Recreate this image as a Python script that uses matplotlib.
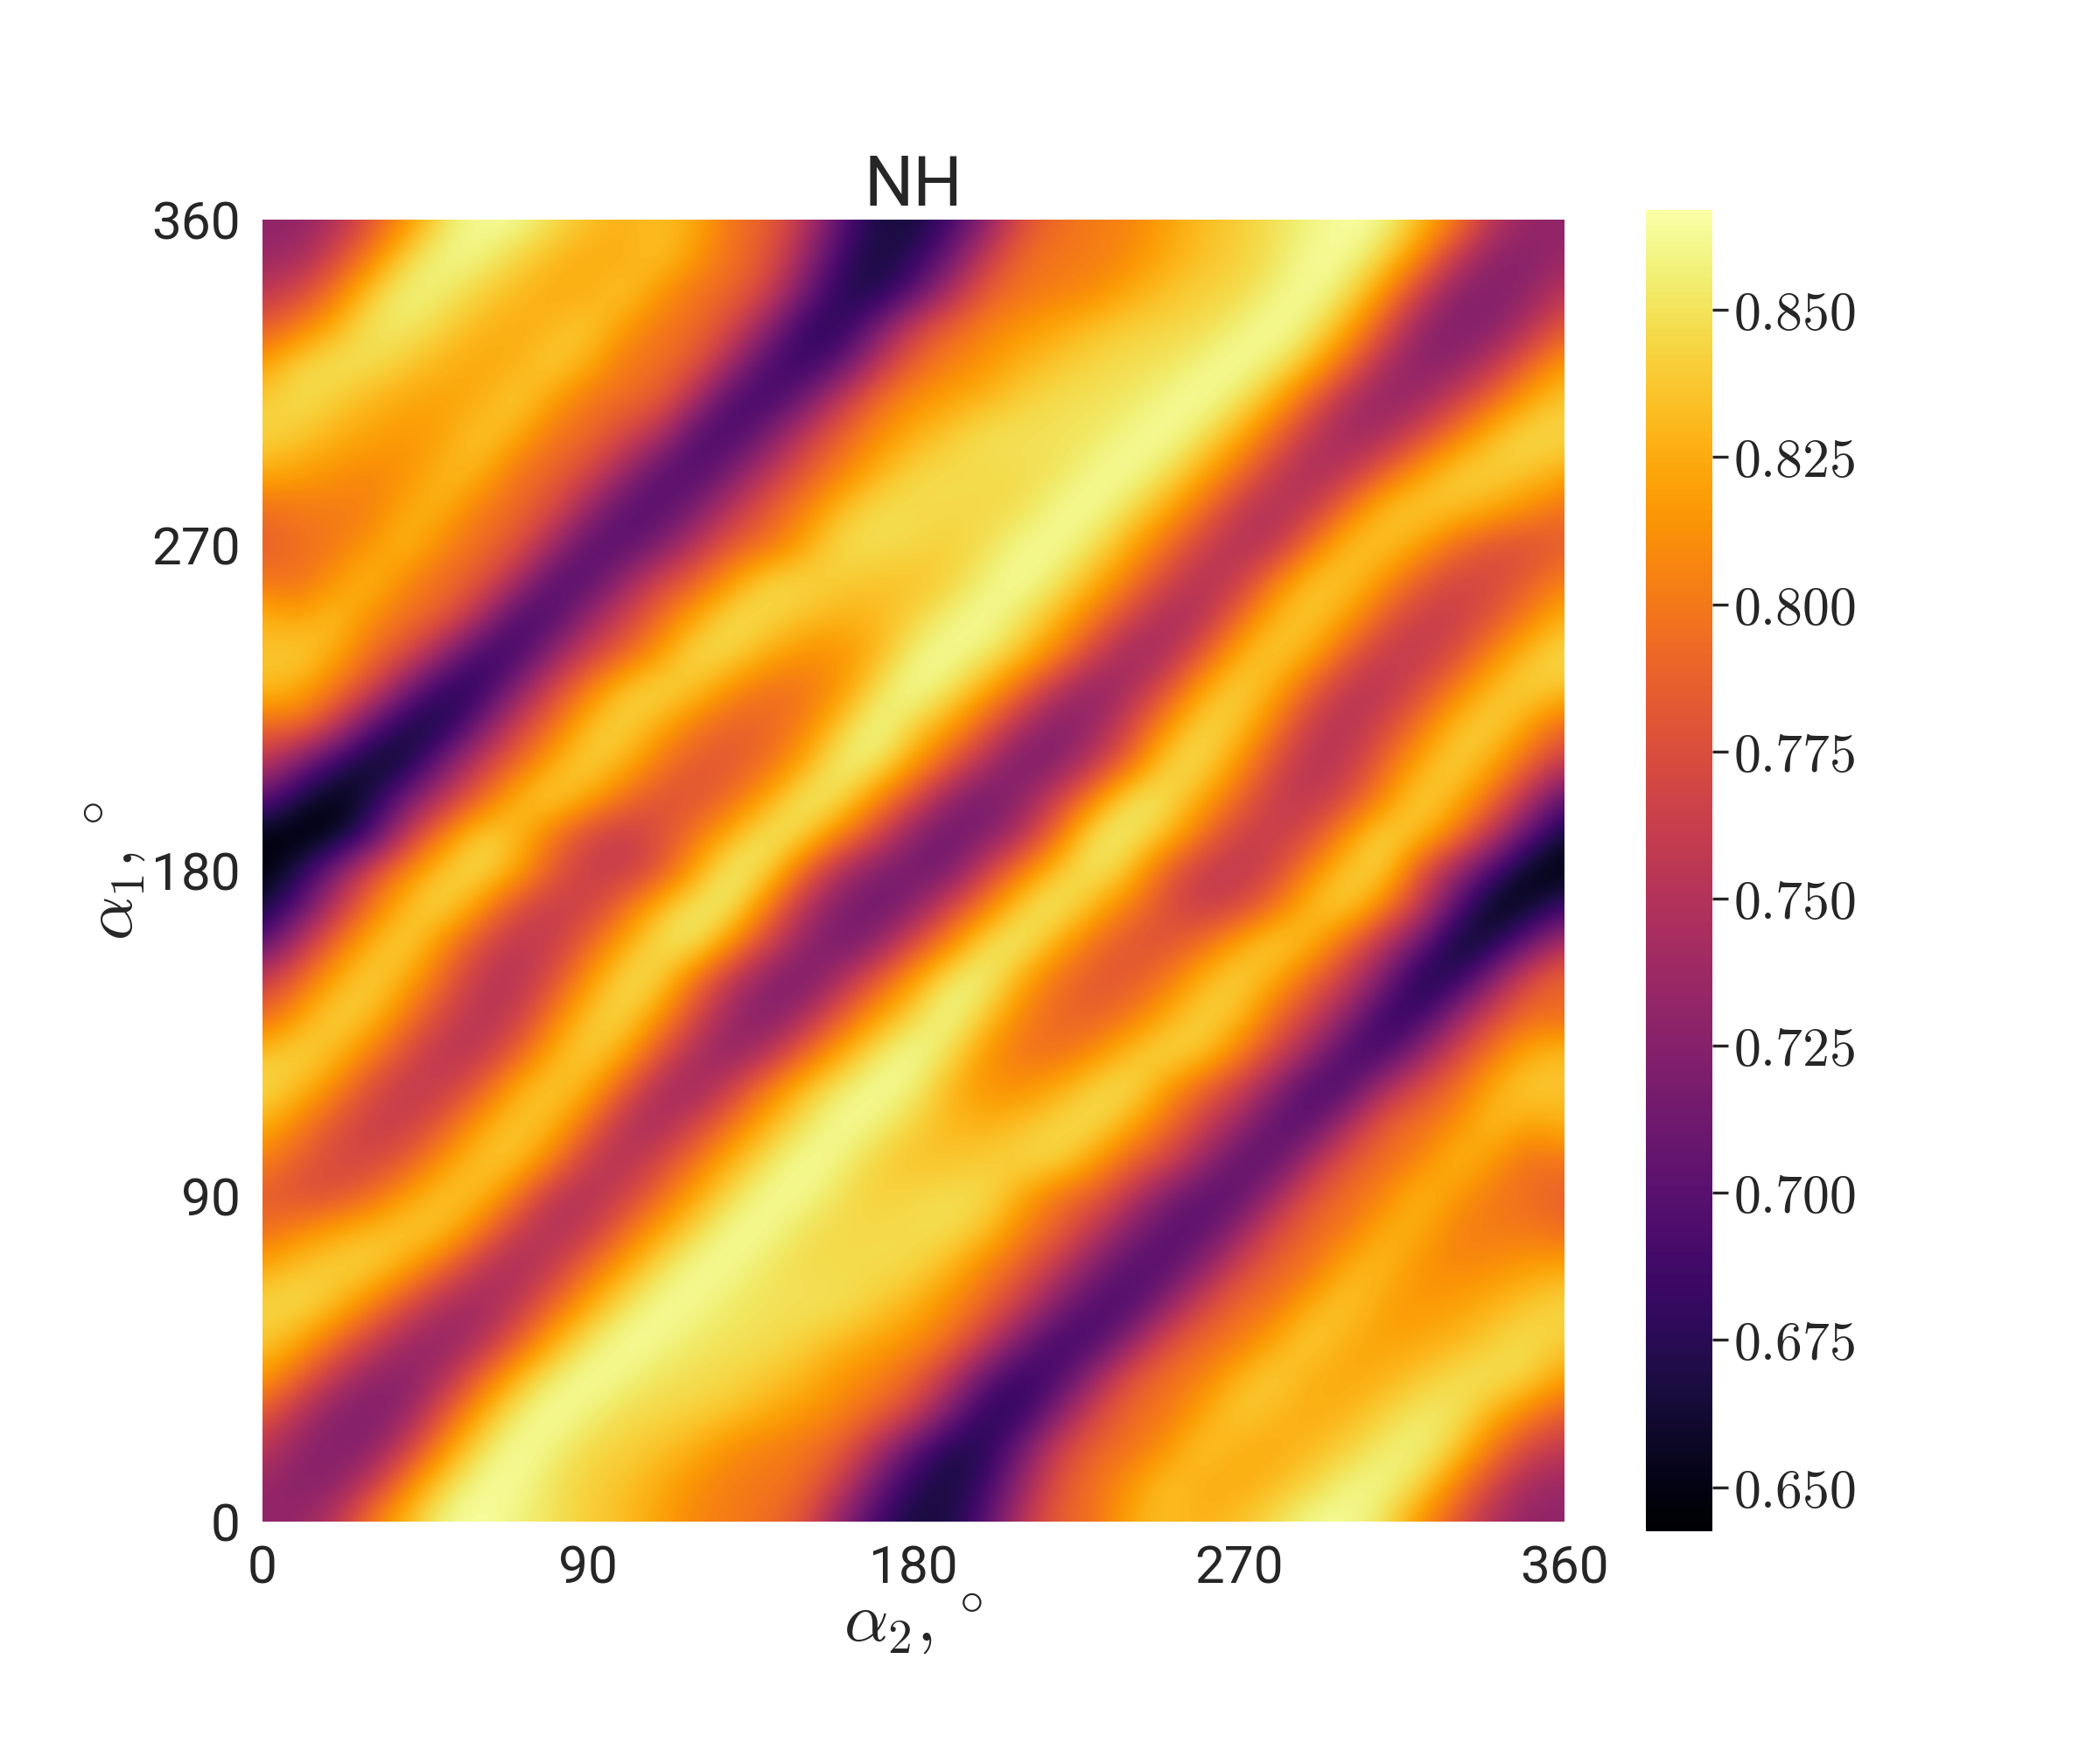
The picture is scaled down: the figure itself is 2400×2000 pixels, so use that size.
import numpy as np
import matplotlib
matplotlib.use("Agg")
import matplotlib.pyplot as plt
from matplotlib.cm import ScalarMappable
from matplotlib.colors import Normalize

# Values (x 1000); 10 degree grid.
# First row is alpha_1 = 360, last is alpha_1 = 0; columns run alpha_2 = 0 .. 360.
alpha_step = list(range(0, 361, 10))
nh_milli = [
 [730,730,745,780,812,850,864,864,850,835,828,833,825,797,787,755,700,667,664,685,725,775,793,802,806,820,833,840,850,858,867,862,835,805,755,733,730],
 [735,740,770,805,845,862,860,845,832,825,825,838,815,797,780,735,685,664,675,710,760,793,800,802,810,825,835,842,850,864,864,845,810,760,728,725,735],
 [755,770,800,840,860,855,842,832,825,825,840,815,797,790,765,715,672,668,700,745,785,798,803,810,825,835,842,845,858,866,850,815,765,727,722,730,755],
 [785,805,830,853,853,842,830,825,830,842,815,800,793,770,725,678,675,715,765,790,805,815,825,835,842,845,847,858,867,855,825,780,732,720,725,750,785],
 [820,845,851,848,838,828,822,826,843,825,800,795,780,735,690,680,705,755,790,805,815,830,838,845,848,850,860,866,855,830,790,745,725,730,755,790,820],
 [840,849,840,830,823,820,825,843,820,798,793,785,740,690,687,715,760,795,812,822,832,842,848,850,852,862,866,852,825,785,745,730,738,765,795,825,840],
 [845,838,828,820,815,820,840,825,798,793,770,745,692,692,720,760,790,810,828,840,850,850,850,852,862,865,850,825,790,755,737,745,775,805,835,848,845],
 [825,820,812,808,812,832,830,797,790,770,735,698,695,720,755,785,805,830,845,847,846,847,850,862,865,850,825,795,760,742,755,790,820,843,843,838,825],
 [795,800,802,803,825,830,800,793,775,735,700,697,720,755,785,805,835,848,847,846,845,848,862,865,848,825,795,760,746,760,800,835,842,835,825,810,795],
 [785,795,800,815,835,805,795,780,740,700,698,720,755,785,797,825,848,848,845,841,848,862,864,850,825,795,765,747,755,800,835,838,820,795,778,775,785],
 [800,795,815,835,805,795,782,745,698,698,735,770,790,820,848,845,840,836,835,842,858,866,852,830,800,770,748,760,805,838,838,815,785,768,770,785,805],
 [830,820,838,810,797,785,745,692,692,735,765,795,825,850,845,835,828,830,842,858,866,852,830,800,768,742,750,795,832,840,820,785,762,762,780,805,830],
 [835,843,825,795,775,730,685,685,730,765,790,820,850,845,825,812,812,830,858,866,855,835,805,765,735,745,785,828,842,825,785,760,757,775,808,835,848],
 [835,825,800,770,715,675,675,725,770,805,840,848,835,810,795,797,815,850,866,852,825,790,750,727,745,780,825,845,825,785,755,752,775,805,835,845,835],
 [790,795,760,700,665,665,715,765,795,835,845,825,800,786,790,805,840,865,845,820,785,745,720,735,770,815,847,838,800,760,750,770,800,835,845,820,790],
 [760,720,680,655,662,715,760,790,825,845,830,800,782,782,795,825,860,855,820,785,745,715,725,755,795,845,848,815,775,750,757,790,825,845,825,790,760],
 [705,665,648,665,715,755,790,830,845,825,795,778,778,795,825,857,850,810,775,730,712,730,765,810,855,850,825,790,760,755,775,810,845,830,795,750,700],
 [645,643,648,690,760,805,845,835,800,770,760,775,800,830,857,845,805,770,725,710,720,750,800,855,855,835,795,765,760,775,815,848,835,800,755,700,660],
 [645,670,720,775,810,840,850,825,785,762,760,780,825,860,845,790,745,720,713,715,765,805,840,855,835,785,760,755,770,810,840,845,780,735,690,648,645],
 [660,700,755,800,835,848,815,775,760,765,795,835,855,855,800,750,720,710,725,770,805,845,857,830,800,775,760,770,800,835,845,805,760,700,647,655,685],
 [700,750,795,830,845,810,775,755,760,790,825,850,855,810,765,730,712,730,775,810,850,857,825,795,778,778,795,825,845,830,790,750,710,655,665,710,750],
 [760,790,825,845,825,790,757,750,775,815,848,845,795,755,725,715,745,785,820,855,860,825,795,782,782,800,830,845,825,790,760,720,665,675,725,775,795],
 [790,820,845,835,800,770,750,760,800,838,847,815,770,735,720,745,785,820,845,865,840,805,790,786,800,825,845,835,795,765,730,680,680,730,770,795,790],
 [835,845,835,805,775,752,755,785,825,845,825,780,745,727,750,790,825,852,866,850,815,797,795,810,835,848,840,805,770,735,690,685,730,770,800,825,835],
 [848,835,808,775,757,760,785,825,842,828,785,745,735,765,805,835,855,866,858,830,812,812,825,845,850,820,790,765,730,690,695,745,775,795,825,843,835],
 [830,805,780,762,762,785,820,840,832,795,750,742,768,800,830,852,866,858,842,830,828,835,845,850,825,795,765,735,700,700,745,785,797,810,838,820,830],
 [805,785,770,768,785,815,838,838,805,760,748,770,800,830,852,866,858,842,835,836,840,845,848,820,790,770,735,703,703,745,782,795,805,835,815,795,800],
 [785,775,778,795,820,838,835,800,755,747,765,795,825,850,864,862,848,841,845,848,848,825,797,785,755,720,700,702,740,780,795,805,835,815,800,795,785],
 [795,810,825,835,842,835,800,760,746,760,795,825,848,865,862,848,845,846,847,848,835,805,785,755,720,699,700,735,775,793,800,830,825,803,802,800,795],
 [825,838,843,843,820,790,755,742,760,795,825,850,865,862,850,847,846,847,845,830,805,785,755,720,697,698,730,770,790,797,830,832,812,808,812,820,825],
 [845,848,835,805,775,745,737,755,790,825,850,865,862,852,850,850,850,840,828,810,790,760,720,695,692,730,770,793,798,828,840,820,815,820,828,838,845],
 [840,825,795,765,738,730,745,785,825,852,866,862,852,850,848,842,832,822,812,795,760,715,687,690,730,775,793,800,825,843,825,820,823,830,840,849,840],
 [820,790,755,730,725,745,790,830,855,866,860,850,848,845,838,830,815,805,790,755,705,680,690,735,780,795,805,830,843,826,822,828,838,848,851,845,820],
 [785,750,725,720,732,780,825,855,867,858,847,845,842,835,825,815,805,790,765,715,675,678,725,770,793,800,822,842,830,825,830,842,853,853,830,805,785],
 [755,730,722,727,765,815,850,866,858,845,842,835,825,810,803,798,785,745,700,668,672,715,765,790,797,815,840,825,825,832,842,855,860,840,800,770,755],
 [735,725,728,760,810,845,864,864,850,842,835,825,810,802,800,793,760,710,675,664,685,735,780,797,815,838,825,825,832,845,860,862,845,805,770,740,735],
 [730,733,755,805,835,862,867,858,850,840,833,820,806,802,793,775,725,685,664,667,700,755,787,797,825,833,828,835,850,864,864,850,812,780,745,730,730],
]
axis_ticks = [0, 90, 180, 270, 360]
cbar_ticks = [0.650, 0.675, 0.700, 0.725, 0.750, 0.775, 0.800, 0.825, 0.850]
value_min = 0.6425
value_max = 0.867

plt.rcParams['mathtext.fontset'] = 'cm'
plt.rcParams['font.family'] = ['Roboto', 'DejaVu Sans']
ink = '#262626'

fig = plt.figure(figsize=(8, 20 / 3), dpi=300)
ax = fig.add_axes([0.125, 0.1305, 0.62, 0.744])
cax = fig.add_axes([1881 / 2400, 1 - 1750 / 2000, 76 / 2400, 1510 / 2000])

values = np.array(nh_milli)[::-1] / 1000.0
half = (alpha_step[1] - alpha_step[0]) / 2
norm = Normalize(value_min, value_max)
ax.imshow(values, origin='lower', cmap='inferno', norm=norm, interpolation='bicubic',
          extent=[alpha_step[0] - half, alpha_step[-1] + half, alpha_step[0] - half, alpha_step[-1] + half],
          aspect='auto')
ax.set_xlim(0, 360)
ax.set_ylim(0, 360)
for s in ax.spines.values():
    s.set_visible(False)
ax.set_xticks(axis_ticks)
ax.set_yticks(axis_ticks)
ax.tick_params(length=0, pad=6, labelsize=14.5, labelcolor=ink)
ax.set_title('NH', fontsize=19, color=ink, pad=3)
ax.set_xlabel(r'$\alpha_2,^\circ$', fontsize=19, color=ink, labelpad=-1)
ax.set_ylabel(r'$\alpha_1,^\circ$', fontsize=19, color=ink, labelpad=1)

cb = fig.colorbar(ScalarMappable(norm=norm, cmap='inferno'), cax=cax)
cb.outline.set_visible(False)
cb.set_ticks(cbar_ticks)
cb.set_ticklabels([f'${t:.3f}$' for t in cbar_ticks])
cax.tick_params(length=4.3, width=0.8, color=ink, labelcolor=ink, labelsize=14.8, pad=1.5)

fig.savefig('out.png', dpi=300)
